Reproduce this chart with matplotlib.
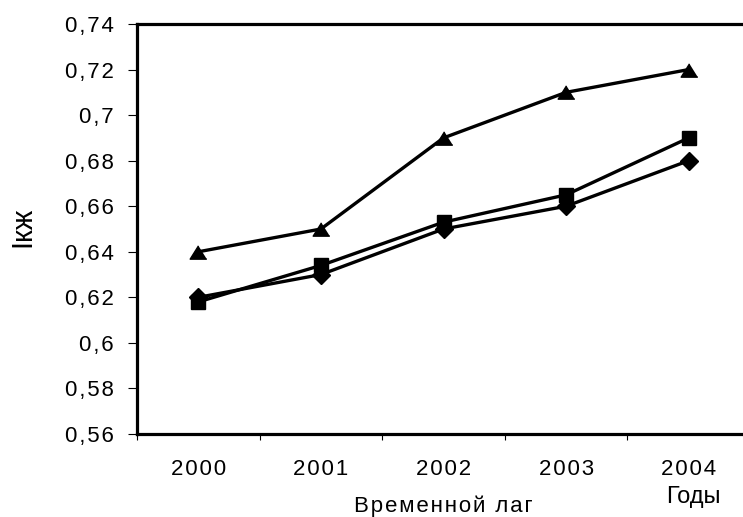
import matplotlib
matplotlib.use("Agg")
import matplotlib.pyplot as plt
from matplotlib.ticker import FixedLocator, FuncFormatter

# Data
years = ["2000", "2001", "2002", "2003", "2004"]
series_diamond = [0.62, 0.63, 0.65, 0.66, 0.68]
series_square = [0.618, 0.634, 0.653, 0.665, 0.69]
series_triangle = [0.64, 0.65, 0.69, 0.71, 0.72]
y_ticks = [0.56, 0.58, 0.60, 0.62, 0.64, 0.66, 0.68, 0.70, 0.72, 0.74]

plt.rcParams['font.family'] = ['Liberation Sans', 'DejaVu Sans']

W, H = 743, 517
fig = plt.figure(figsize=(W / 100, H / 100), dpi=100)
L, R, T, B = 137, 750, 24, 434
ax = fig.add_axes([L / W, 1 - B / H, (R - L) / W, (B - T) / H])

x = list(range(len(years)))
tri = [(0, 0.8), (-1, -0.8), (1, -0.8)]
ax.plot(x, series_diamond, color='black', lw=2.4, marker='D', ms=9,
        mfc='black', mec='black', zorder=3, solid_joinstyle='miter')
ax.plot(x, series_square, color='black', lw=2.4, marker='s', ms=10.5,
        mfc='black', mec='black', zorder=4, solid_joinstyle='miter')
ax.plot(x, series_triangle, color='black', lw=2.4, marker=tri, ms=12,
        mfc='black', mec='black', zorder=5, solid_joinstyle='miter')

ax.set_xlim(-0.5, len(years) - 0.5)
ax.set_ylim(0.56, 0.74)

for s in ['left', 'top', 'bottom', 'right']:
    ax.spines[s].set_linewidth(2.3)
    ax.spines[s].set_color('black')

ax.yaxis.set_major_locator(FixedLocator(y_ticks))

def yfmt(v, pos):
    s = f"{v:.2f}".rstrip('0').replace('.', ',')
    return '\u200a'.join(s)

ax.yaxis.set_major_formatter(FuncFormatter(yfmt))
ax.tick_params(axis='y', direction='out', length=6.5, width=0.8, pad=10,
               labelsize=16, colors='black')

ax.set_xticks(x)
ax.set_xticklabels(['\u200a'.join(y) for y in years])
ax.set_xticks([i - 0.5 for i in range(len(years) + 1)], minor=True)
ax.tick_params(axis='x', which='major', length=0, pad=18, labelsize=16)
ax.tick_params(axis='x', which='minor', direction='out', length=4.5, width=0.8)

fig.text(443 / W, 1 - 512 / H, '\u200a'.join("Временной лаг"), ha='center',
         va='baseline', fontsize=16)
fig.text(693 / W, 1 - 503 / H, "Годы", ha='center', va='baseline', fontsize=17)
fig.text(22 / W, 1 - 227 / H, "Iкж", ha='center', va='center', fontsize=21,
         rotation=90)

fig.savefig("out.png", dpi=100)
